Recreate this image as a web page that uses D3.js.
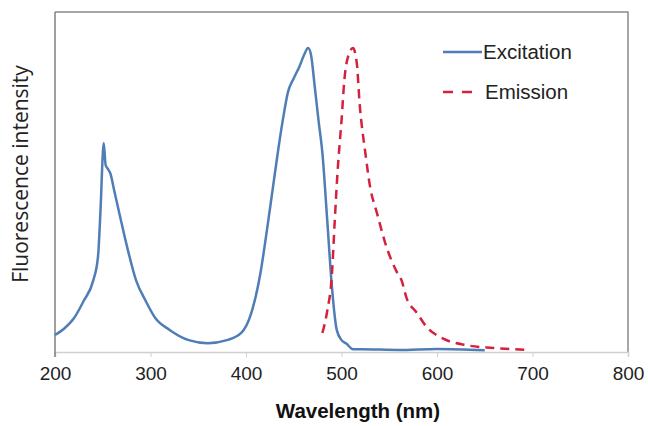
<!DOCTYPE html>
<html>
<head>
<meta charset="utf-8">
<script src="https://cdn.jsdelivr.net/npm/d3@7"></script>
<style>
  body { margin: 0; background: #fff; }
  svg { display: block; }
</style>
</head>
<body>
<svg></svg>
<script>
// wavelength (nm) and intensity (arbitrary units)
var excitationNm = [200, 210, 220, 230, 240, 245, 248, 250, 251, 253, 255, 258, 262, 268, 275, 285, 295, 305, 320, 340, 360, 380, 395, 405, 415, 422, 428, 434, 439, 444, 450, 456, 461, 465, 468, 472, 476, 480, 485, 490, 495, 500, 505, 512, 520, 560, 600, 650];
var excitationI  = [5, 7, 10, 15, 21, 28, 44, 58, 61.5, 55, 54, 52.5, 47.5, 40, 31.5, 21, 15, 10, 6.5, 3.5, 2.6, 3.5, 5.6, 11, 23, 36, 48, 60, 69, 76.5, 80.5, 84, 87.5, 89.4, 87.5, 78, 68, 58.5, 39, 19, 6.5, 3.5, 2.5, 0.8, 0.8, 0.6, 0.9, 0.5];

var emissionNm = [480, 485, 490, 493, 496, 500, 503, 507, 512, 516, 519, 525, 530, 537, 547, 558, 563, 568, 579, 589, 606, 631, 659, 694];
var emissionI  = [5.6, 12, 23, 39, 53.5, 68, 80, 87, 89.4, 85, 73, 58.5, 48.5, 41, 31, 23.5, 21, 16, 11.5, 7.4, 4, 2, 1.2, 0.6];

var xTicks = [200, 300, 400, 500, 600, 700, 800];

var width = 648, height = 426;
var margin = { top: 12, right: 20, bottom: 74, left: 55 };
var plotW = width - margin.left - margin.right;
var plotH = height - margin.top - margin.bottom;

var svg = d3.select("svg")
  .attr("width", width)
  .attr("height", height);

var g = svg.append("g")
  .attr("transform", "translate(" + margin.left + "," + margin.top + ")");

var x = d3.scaleLinear().domain([200, 800]).range([0, plotW]);
var y = d3.scaleLinear().domain([0, 100]).range([plotH, 0]);

// plot area frame (top and right)
g.append("path")
  .attr("d", "M0,0H" + plotW + "V" + plotH)
  .attr("fill", "none")
  .attr("stroke", "#8a8a8a")
  .attr("stroke-width", 1.5);

// x axis
var xAxis = g.append("g")
  .attr("transform", "translate(0," + plotH + ")")
  .call(d3.axisBottom(x).tickValues(xTicks).tickSize(5).tickPadding(10).tickFormat(d3.format("d")));
xAxis.select(".domain").attr("stroke", "#cfcfcf").attr("stroke-width", 1.5);
xAxis.selectAll(".tick line").attr("stroke", "#cfcfcf");
xAxis.selectAll(".tick text")
  .attr("fill", "#222")
  .style("font-family", "'Liberation Sans', Arial, sans-serif")
  .style("font-size", "19px");

// y axis line only
g.append("line")
  .attr("x1", 0).attr("x2", 0)
  .attr("y1", 0).attr("y2", plotH + 5)
  .attr("stroke", "#7f7f7f")
  .attr("stroke-width", 1.5);

var line = d3.line()
  .x(function(d) { return x(d[0]); })
  .y(function(d) { return y(d[1]); })
  .curve(d3.curveMonotoneX);

var excitation = d3.zip(excitationNm, excitationI);
var emission = d3.zip(emissionNm, emissionI);

g.append("path")
  .datum(excitation)
  .attr("d", line)
  .attr("fill", "none")
  .attr("stroke", "#4f7db5")
  .attr("stroke-width", 2.5);

g.append("path")
  .datum(emission)
  .attr("d", line)
  .attr("fill", "none")
  .attr("stroke", "#d4213d")
  .attr("stroke-width", 2.5)
  .attr("stroke-dasharray", "9,6");

// legend
var legend = g.append("g").attr("transform", "translate(" + (443 - margin.left) + "," + (52 - margin.top) + ")");
legend.append("line")
  .attr("x1", 0).attr("x2", 39).attr("y1", 0).attr("y2", 0)
  .attr("stroke", "#4f7db5").attr("stroke-width", 2.5);
legend.append("text")
  .attr("x", 40).attr("y", 7)
  .text("Excitation");
legend.append("line")
  .attr("x1", 0).attr("x2", 29).attr("y1", 40).attr("y2", 40)
  .attr("stroke", "#d4213d").attr("stroke-width", 2.5)
  .attr("stroke-dasharray", "10,9");
legend.append("text")
  .attr("x", 42).attr("y", 47)
  .text("Emission");
legend.selectAll("text")
  .attr("fill", "#222")
  .style("font-family", "'Liberation Sans', Arial, sans-serif")
  .style("font-size", "20.5px");

// axis titles
svg.append("text")
  .attr("x", 358)
  .attr("y", 418)
  .attr("text-anchor", "middle")
  .attr("fill", "#111")
  .style("font-family", "'Liberation Sans', Arial, sans-serif")
  .style("font-weight", "bold")
  .style("font-size", "20.5px")
  .text("Wavelength (nm)");

svg.append("text")
  .attr("transform", "translate(28,174) rotate(-90)")
  .attr("text-anchor", "middle")
  .attr("fill", "#222")
  .style("font-family", "'Open Sans', sans-serif")
  .style("font-size", "21px")
  .text("Fluorescence intensity");
</script>
</body>
</html>
